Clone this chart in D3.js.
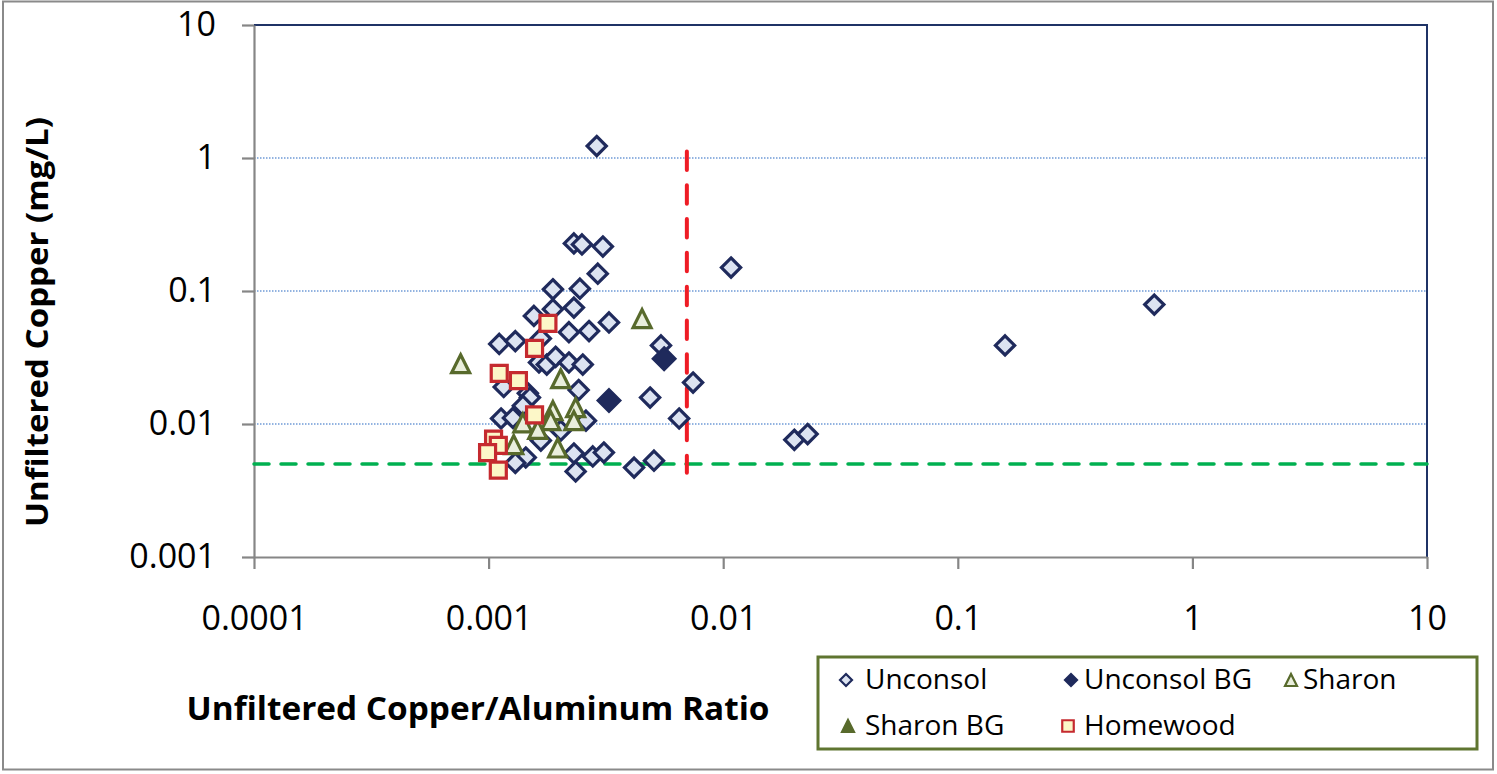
<!DOCTYPE html>
<html>
<head>
<meta charset="utf-8">
<script src="https://cdn.jsdelivr.net/npm/d3@7"></script>
<style>
  body { margin: 0; background: #fff; }
  svg { display: block; }
  text { font-family: "Open Sans", "Noto Sans", sans-serif; }
</style>
</head>
<body>
<svg id="chart" width="1497" height="774"></svg>
<script>
// Copper concentration vs Cu/Al ratio, one [ratio, copper mg/L] pair per sample
const unconsol = [
  [0.00289, 1.23], [0.00231, 0.228], [0.00250, 0.224], [0.00307, 0.216],
  [0.0108, 0.150], [0.00292, 0.135], [0.00188, 0.103], [0.00245, 0.104],
  [0.00231, 0.075], [0.00188, 0.073], [0.00156, 0.065], [0.00326, 0.058],
  [0.00220, 0.049], [0.00268, 0.050], [0.00111, 0.040], [0.00130, 0.042],
  [0.00167, 0.044], [0.00543, 0.039], [0.00164, 0.029], [0.00177, 0.028],
  [0.00193, 0.032], [0.00220, 0.029], [0.00252, 0.028], [0.00744, 0.0205],
  [0.00116, 0.019], [0.00147, 0.017], [0.00150, 0.0158], [0.00242, 0.018],
  [0.00488, 0.0158], [0.00113, 0.011], [0.00127, 0.0111], [0.00260, 0.0106],
  [0.00649, 0.011], [0.00203, 0.0089], [0.0201, 0.0076], [0.0229, 0.0084],
  [0.00231, 0.0060], [0.00278, 0.0057], [0.00310, 0.0061], [0.00235, 0.0044],
  [0.00417, 0.0047], [0.00507, 0.0053], [0.00144, 0.0056], [0.00130, 0.0051],
  [0.159, 0.039], [0.688, 0.079], [0.00167, 0.0075], [0.00140, 0.0137]
];
const unconsolBG = [
  [0.00326, 0.0150], [0.00560, 0.031]
];
const sharon = [
  [0.00076, 0.0284], [0.00451, 0.062], [0.00203, 0.0219], [0.00235, 0.0133],
  [0.00231, 0.0106], [0.00188, 0.0126], [0.00184, 0.0106], [0.00140, 0.0102],
  [0.00162, 0.0091], [0.00128, 0.0070], [0.00197, 0.0066]
];
const sharonBG = [];
const homewood = [
  [0.00179, 0.057], [0.00157, 0.037], [0.00111, 0.024], [0.00134, 0.0212],
  [0.00157, 0.0117], [0.00105, 0.0077], [0.00110, 0.0069], [0.00099, 0.0061],
  [0.00110, 0.0045]
];

// reference lines: detection limit and ratio threshold
const detectionLimit = 0.005;
const ratioThreshold = 0.007;
const ratioLineSpan = [0.0043, 1.12];

const xTicks = [0.0001, 0.001, 0.01, 0.1, 1, 10];
const xTickLabels = ["0.0001", "0.001", "0.01", "0.1", "1", "10"];
const yTicks = [0.001, 0.01, 0.1, 1, 10];
const yTickLabels = ["0.001", "0.01", "0.1", "1", "10"];

const xTitle = "Unfiltered Copper/Aluminum Ratio";
const yTitle = "Unfiltered Copper (mg/L)";

// ---- drawing ----
const svg = d3.select("#chart");
const x = d3.scaleLog().domain([1e-4, 10]).range([254, 1427]);
const y = d3.scaleLog().domain([1e-3, 10]).range([557, 25]);

const NAVY = "#1f2a5c";
const series = [
  { name: "Unconsol",    data: unconsol,   shape: "diamond",  size: 9.6,  fill: "#dce3f1", stroke: NAVY,      sw: 3.2 },
  { name: "Unconsol BG", data: unconsolBG, shape: "diamond",  size: 11.6, fill: NAVY,      stroke: NAVY,      sw: 2 },
  { name: "Sharon",      data: sharon,     shape: "triangle", size: 18,   fill: "#e9eedc", stroke: "#586a2c", sw: 3.2 },
  { name: "Sharon BG",   data: sharonBG,   shape: "triangle", size: 18,   fill: "#586a2c", stroke: "#586a2c", sw: 3.2 },
  { name: "Homewood",    data: homewood,   shape: "square",   size: 16,   fill: "#fcf7c8", stroke: "#c52a2f", sw: 3.2 }
];

function markerPath(shape, s) {
  if (shape === "diamond") return `M0,${-s}L${s},0L0,${s}L${-s},0Z`;
  if (shape === "triangle") return `M0,${-s / 2}L${s / 2},${s / 2}L${-s / 2},${s / 2}Z`;
  const h = s / 2;
  return `M${-h},${-h}H${h}V${h}H${-h}Z`;
}

// outer chart frame
svg.append("rect")
  .attr("x", 3).attr("y", 1.5).attr("width", 1490).attr("height", 768)
  .attr("fill", "#fff").attr("stroke", "#8a8a8a").attr("stroke-width", 2);

// horizontal gridlines
svg.append("g").selectAll("line")
  .data(yTicks.filter(v => v > 1e-3 && v < 10))
  .join("line")
  .attr("x1", x(1e-4)).attr("x2", x(10))
  .attr("y1", d => y(d)).attr("y2", d => y(d))
  .attr("stroke", "#6f9ad6").attr("stroke-width", 1.3)
  .attr("stroke-dasharray", "1.5,1.5");

// plot area border (top and right edges)
svg.append("path")
  .attr("d", `M${x(1e-4)},${y(10)}H${x(10)}V${y(1e-3)}`)
  .attr("fill", "none").attr("stroke", "#1f3366").attr("stroke-width", 2);

// axes
const yAxis = d3.axisLeft(y).tickValues(yTicks)
  .tickFormat((d, i) => yTickLabels[i])
  .tickSizeInner(12).tickSizeOuter(0).tickPadding(26);
const xAxis = d3.axisBottom(x).tickValues(xTicks)
  .tickFormat((d, i) => xTickLabels[i])
  .tickSizeInner(12).tickSizeOuter(0).tickPadding(37);

const gy = svg.append("g").attr("transform", `translate(${x(1e-4)},0)`).call(yAxis);
const gx = svg.append("g").attr("transform", `translate(0,${y(1e-3)})`).call(xAxis);
[gx, gy].forEach(g => {
  g.select(".domain").attr("stroke", "#868686").attr("stroke-width", 2.2);
  g.selectAll(".tick line").attr("stroke", "#868686").attr("stroke-width", 2.2);
  g.selectAll(".tick text")
    .attr("fill", "#000")
    .style("font-family", '"Open Sans", sans-serif')
    .style("font-size", "34px");
});

// reference lines
svg.append("line")
  .attr("x1", x(1e-4)).attr("x2", x(10))
  .attr("y1", y(detectionLimit)).attr("y2", y(detectionLimit))
  .attr("stroke", "#00b050").attr("stroke-width", 3.5)
  .attr("stroke-dasharray", "15,12").attr("stroke-linecap", "round");
svg.append("line")
  .attr("x1", x(ratioThreshold)).attr("x2", x(ratioThreshold))
  .attr("y1", y(ratioLineSpan[1])).attr("y2", y(ratioLineSpan[0]))
  .attr("stroke", "#ee1c25").attr("stroke-width", 4)
  .attr("stroke-dasharray", "18.5,15.3").attr("stroke-linecap", "round");

// markers, one layer per series in plotting order
series.forEach(s => {
  svg.append("g").selectAll("path")
    .data(s.data)
    .join("path")
    .attr("transform", d => `translate(${x(d[0])},${y(d[1])})`)
    .attr("d", markerPath(s.shape, s.size))
    .attr("fill", s.fill).attr("stroke", s.stroke)
    .attr("stroke-width", s.sw).attr("stroke-linejoin", "miter");
});

// axis titles
svg.append("text")
  .attr("x", 478).attr("y", 720)
  .attr("text-anchor", "middle")
  .attr("textLength", 583).attr("lengthAdjust", "spacingAndGlyphs")
  .style("font-size", "32px").style("font-weight", "bold")
  .text(xTitle);
svg.append("text")
  .attr("transform", "translate(48,322) rotate(-90)")
  .attr("text-anchor", "middle")
  .attr("textLength", 410).attr("lengthAdjust", "spacingAndGlyphs")
  .style("font-size", "31px").style("font-weight", "bold")
  .text(yTitle);

// legend
const legend = svg.append("g");
legend.append("rect")
  .attr("x", 818).attr("y", 657).attr("width", 659).attr("height", 92)
  .attr("fill", "#fff").attr("stroke", "#5f7530").attr("stroke-width", 3);
const legendSlots = [
  { mx: 846, tx: 865, row: 0 }, { mx: 1071, tx: 1084, row: 0 }, { mx: 1291, tx: 1303, row: 0 },
  { mx: 848, tx: 865, row: 1 }, { mx: 1068, tx: 1084, row: 1 }
];
const legendSize = { diamond: 6, triangle: 12, square: 11.5 };
series.forEach((s, i) => {
  const slot = legendSlots[i];
  const cy = slot.row === 0 ? 680 : 726;
  const base = slot.row === 0 ? 689 : 735;
  legend.append("path")
    .attr("transform", `translate(${slot.mx},${cy})`)
    .attr("d", markerPath(s.shape, legendSize[s.shape]))
    .attr("fill", s.fill).attr("stroke", s.stroke).attr("stroke-width", 2.2);
  legend.append("text")
    .attr("x", slot.tx).attr("y", base)
    .style("font-size", "28px")
    .text(s.name);
});
</script>
</body>
</html>
